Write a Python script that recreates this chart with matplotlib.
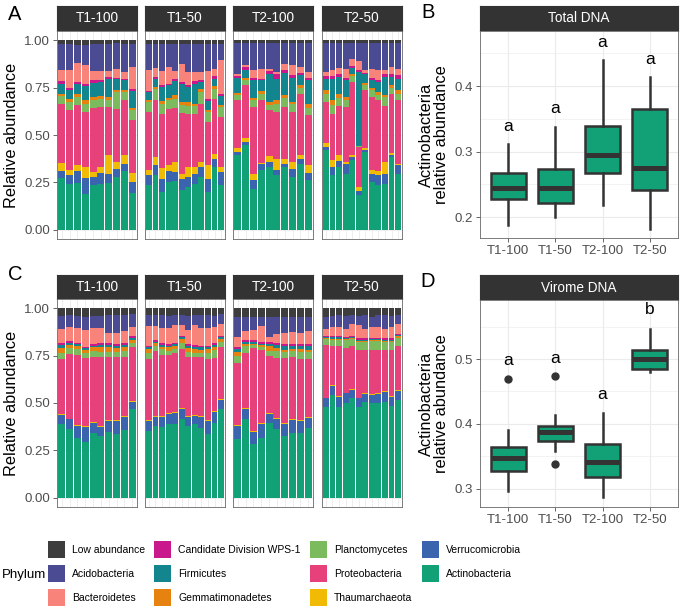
import numpy as np
import matplotlib
matplotlib.use('Agg')
import matplotlib.pyplot as plt
from matplotlib.patches import Patch

plt.rcParams['font.family'] = ['Liberation Sans', 'DejaVu Sans']

W, H = 680, 611

# legend order (ggplot factor levels)
phyla = ['Low abundance', 'Acidobacteria', 'Bacteroidetes',
         'Candidate Division WPS-1', 'Firmicutes', 'Gemmatimonadetes',
         'Planctomycetes', 'Proteobacteria', 'Thaumarchaeota',
         'Verrucomicrobia', 'Actinobacteria']
phylum_colors = ['#3d3d3d', '#4a4b93', '#f8837a',
                 '#c9188c', '#12858f', '#e6820f',
                 '#7bba5d', '#e6417a', '#f1bb05',
                 '#3a65ae', '#12a077']
# stacking order, bottom -> top
stack_order = ['Actinobacteria', 'Verrucomicrobia', 'Thaumarchaeota',
               'Proteobacteria', 'Planctomycetes', 'Gemmatimonadetes',
               'Firmicutes', 'Candidate Division WPS-1', 'Bacteroidetes',
               'Acidobacteria', 'Low abundance']

groups = ['T1-100', 'T1-50', 'T2-100', 'T2-50']

# cumulative tops of each layer (rows follow stack_order, Low abundance tops at 1)
total_t1_100 = [
    [0.273, 0.243, 0.246, 0.190, 0.234, 0.243, 0.246, 0.278, 0.310, 0.194],
    [0.310, 0.287, 0.308, 0.270, 0.278, 0.300, 0.296, 0.322, 0.349, 0.252],
    [0.352, 0.317, 0.340, 0.331, 0.305, 0.331, 0.393, 0.357, 0.393, 0.300],
    [0.662, 0.630, 0.657, 0.621, 0.644, 0.648, 0.648, 0.639, 0.683, 0.577],
    [0.706, 0.674, 0.700, 0.665, 0.683, 0.690, 0.687, 0.727, 0.727, 0.630],
    [0.718, 0.688, 0.715, 0.683, 0.700, 0.704, 0.700, 0.739, 0.736, 0.644],
    [0.771, 0.739, 0.771, 0.757, 0.776, 0.780, 0.798, 0.794, 0.789, 0.731],
    [0.783, 0.750, 0.782, 0.768, 0.789, 0.789, 0.806, 0.803, 0.798, 0.745],
    [0.845, 0.842, 0.880, 0.868, 0.838, 0.838, 0.838, 0.850, 0.833, 0.859],
    [0.982, 0.980, 0.978, 0.978, 0.982, 0.982, 0.982, 0.985, 0.982, 0.982],
]
total_t1_50 = [
    [0.233, 0.286, 0.198, 0.250, 0.259, 0.210, 0.224, 0.242, 0.277, 0.198, 0.333, 0.233],
    [0.286, 0.339, 0.268, 0.309, 0.303, 0.268, 0.277, 0.295, 0.330, 0.268, 0.374, 0.303],
    [0.316, 0.386, 0.326, 0.339, 0.356, 0.295, 0.330, 0.333, 0.356, 0.339, 0.400, 0.333],
    [0.621, 0.683, 0.612, 0.638, 0.644, 0.616, 0.612, 0.612, 0.665, 0.568, 0.691, 0.594],
    [0.674, 0.744, 0.665, 0.683, 0.691, 0.661, 0.656, 0.651, 0.727, 0.621, 0.744, 0.647],
    [0.683, 0.753, 0.679, 0.697, 0.709, 0.674, 0.674, 0.665, 0.744, 0.630, 0.757, 0.661],
    [0.727, 0.797, 0.753, 0.762, 0.788, 0.771, 0.753, 0.771, 0.780, 0.679, 0.797, 0.704],
    [0.735, 0.806, 0.762, 0.771, 0.797, 0.780, 0.762, 0.785, 0.792, 0.691, 0.810, 0.718],
    [0.845, 0.855, 0.841, 0.862, 0.841, 0.877, 0.832, 0.832, 0.832, 0.838, 0.850, 0.894],
    [0.982, 0.982, 0.982, 0.982, 0.982, 0.982, 0.982, 0.982, 0.982, 0.982, 0.982, 0.982],
]
total_t2_100 = [
    [0.393, 0.445, 0.217, 0.313, 0.331, 0.287, 0.331, 0.278, 0.349, 0.261],
    [0.410, 0.463, 0.261, 0.349, 0.357, 0.313, 0.349, 0.322, 0.375, 0.300],
    [0.431, 0.486, 0.292, 0.352, 0.387, 0.375, 0.375, 0.357, 0.393, 0.340],
    [0.683, 0.762, 0.648, 0.683, 0.630, 0.621, 0.648, 0.621, 0.718, 0.604],
    [0.710, 0.789, 0.683, 0.718, 0.657, 0.665, 0.697, 0.662, 0.750, 0.644],
    [0.722, 0.803, 0.697, 0.732, 0.674, 0.683, 0.710, 0.674, 0.762, 0.665],
    [0.803, 0.845, 0.789, 0.789, 0.824, 0.798, 0.827, 0.803, 0.815, 0.789],
    [0.813, 0.859, 0.803, 0.798, 0.838, 0.820, 0.845, 0.815, 0.827, 0.803],
    [0.820, 0.871, 0.845, 0.850, 0.850, 0.833, 0.873, 0.868, 0.859, 0.833],
    [0.988, 0.988, 0.988, 0.988, 0.988, 0.988, 0.988, 0.988, 0.988, 0.988],
]
total_t2_50 = [
    [0.419, 0.287, 0.331, 0.296, 0.366, 0.181, 0.410, 0.252, 0.234, 0.243, 0.384, 0.296],
    [0.437, 0.331, 0.361, 0.349, 0.384, 0.204, 0.423, 0.296, 0.287, 0.296, 0.393, 0.340],
    [0.458, 0.366, 0.393, 0.357, 0.393, 0.225, 0.433, 0.317, 0.310, 0.357, 0.405, 0.349],
    [0.674, 0.613, 0.651, 0.648, 0.780, 0.437, 0.736, 0.700, 0.683, 0.651, 0.718, 0.683],
    [0.715, 0.657, 0.697, 0.683, 0.810, 0.440, 0.762, 0.736, 0.710, 0.700, 0.750, 0.718],
    [0.736, 0.683, 0.715, 0.700, 0.820, 0.443, 0.775, 0.750, 0.727, 0.713, 0.762, 0.736],
    [0.798, 0.798, 0.806, 0.789, 0.856, 0.833, 0.820, 0.789, 0.780, 0.806, 0.806, 0.798],
    [0.810, 0.810, 0.820, 0.803, 0.866, 0.842, 0.827, 0.803, 0.792, 0.820, 0.824, 0.815],
    [0.833, 0.842, 0.856, 0.850, 0.903, 0.889, 0.845, 0.850, 0.842, 0.845, 0.859, 0.850],
    [0.988, 0.988, 0.988, 0.988, 0.988, 0.988, 0.988, 0.988, 0.988, 0.988, 0.988, 0.988],
]

virome_t1_100 = [
    [0.389, 0.363, 0.314, 0.296, 0.340, 0.328, 0.346, 0.335, 0.358, 0.467],
    [0.437, 0.414, 0.379, 0.375, 0.396, 0.375, 0.405, 0.405, 0.425, 0.507],
    [0.441, 0.418, 0.383, 0.379, 0.400, 0.379, 0.409, 0.409, 0.429, 0.511],
    [0.731, 0.759, 0.754, 0.736, 0.741, 0.741, 0.741, 0.741, 0.745, 0.794],
    [0.766, 0.789, 0.783, 0.766, 0.776, 0.771, 0.771, 0.771, 0.776, 0.819],
    [0.789, 0.806, 0.801, 0.780, 0.794, 0.794, 0.794, 0.789, 0.794, 0.833],
    [0.806, 0.819, 0.812, 0.789, 0.803, 0.806, 0.806, 0.803, 0.806, 0.842],
    [0.815, 0.827, 0.819, 0.798, 0.812, 0.815, 0.815, 0.812, 0.815, 0.854],
    [0.889, 0.903, 0.894, 0.886, 0.894, 0.894, 0.871, 0.868, 0.882, 0.903],
    [0.960, 0.965, 0.960, 0.956, 0.960, 0.960, 0.965, 0.965, 0.965, 0.970],
]
virome_t1_50 = [
    [0.354, 0.379, 0.375, 0.388, 0.389, 0.414, 0.379, 0.389, 0.367, 0.337, 0.393, 0.467],
    [0.407, 0.428, 0.428, 0.442, 0.446, 0.467, 0.428, 0.432, 0.425, 0.405, 0.454, 0.515],
    [0.411, 0.432, 0.432, 0.446, 0.450, 0.471, 0.432, 0.436, 0.429, 0.409, 0.458, 0.519],
    [0.731, 0.776, 0.754, 0.754, 0.762, 0.783, 0.745, 0.745, 0.741, 0.731, 0.736, 0.794],
    [0.762, 0.801, 0.783, 0.776, 0.783, 0.815, 0.771, 0.766, 0.766, 0.766, 0.780, 0.824],
    [0.783, 0.815, 0.798, 0.794, 0.801, 0.836, 0.789, 0.783, 0.780, 0.783, 0.794, 0.836],
    [0.794, 0.824, 0.806, 0.803, 0.812, 0.847, 0.801, 0.798, 0.794, 0.794, 0.806, 0.847],
    [0.801, 0.833, 0.815, 0.812, 0.819, 0.854, 0.812, 0.806, 0.801, 0.801, 0.815, 0.854],
    [0.907, 0.907, 0.894, 0.894, 0.912, 0.912, 0.886, 0.912, 0.894, 0.894, 0.903, 0.917],
    [0.965, 0.965, 0.965, 0.960, 0.965, 0.965, 0.960, 0.965, 0.965, 0.965, 0.960, 0.970],
]
virome_t2_100 = [
    [0.309, 0.414, 0.284, 0.314, 0.393, 0.361, 0.323, 0.340, 0.340, 0.367],
    [0.379, 0.467, 0.349, 0.389, 0.442, 0.414, 0.389, 0.411, 0.407, 0.419],
    [0.384, 0.472, 0.354, 0.394, 0.447, 0.419, 0.394, 0.416, 0.412, 0.424],
    [0.712, 0.765, 0.793, 0.779, 0.747, 0.740, 0.740, 0.744, 0.735, 0.735],
    [0.747, 0.800, 0.805, 0.796, 0.775, 0.775, 0.768, 0.775, 0.768, 0.768],
    [0.770, 0.814, 0.814, 0.805, 0.800, 0.793, 0.782, 0.786, 0.786, 0.782],
    [0.786, 0.823, 0.823, 0.814, 0.810, 0.805, 0.800, 0.800, 0.800, 0.800],
    [0.795, 0.832, 0.832, 0.823, 0.823, 0.817, 0.814, 0.814, 0.814, 0.814],
    [0.851, 0.882, 0.886, 0.909, 0.851, 0.865, 0.868, 0.874, 0.868, 0.879],
    [0.953, 0.953, 0.953, 0.956, 0.953, 0.953, 0.953, 0.953, 0.953, 0.953],
]
virome_t2_50 = [
    [0.481, 0.542, 0.481, 0.498, 0.524, 0.481, 0.507, 0.498, 0.498, 0.507, 0.484, 0.516],
    [0.525, 0.589, 0.533, 0.551, 0.568, 0.525, 0.547, 0.542, 0.547, 0.560, 0.533, 0.565],
    [0.529, 0.593, 0.537, 0.555, 0.572, 0.529, 0.551, 0.546, 0.551, 0.564, 0.537, 0.569],
    [0.805, 0.800, 0.800, 0.793, 0.800, 0.782, 0.782, 0.782, 0.782, 0.782, 0.782, 0.800],
    [0.840, 0.835, 0.835, 0.832, 0.840, 0.823, 0.823, 0.828, 0.828, 0.823, 0.823, 0.845],
    [0.845, 0.840, 0.840, 0.838, 0.845, 0.830, 0.830, 0.833, 0.833, 0.830, 0.830, 0.852],
    [0.849, 0.847, 0.847, 0.845, 0.849, 0.835, 0.835, 0.838, 0.838, 0.835, 0.835, 0.859],
    [0.856, 0.852, 0.852, 0.850, 0.856, 0.842, 0.842, 0.844, 0.844, 0.842, 0.842, 0.866],
    [0.893, 0.902, 0.902, 0.893, 0.919, 0.910, 0.893, 0.902, 0.902, 0.893, 0.902, 0.916],
    [0.954, 0.958, 0.963, 0.958, 0.963, 0.958, 0.963, 0.954, 0.963, 0.963, 0.958, 0.963],
]

# Actinobacteria box plot summaries
total_med = [0.245, 0.244, 0.294, 0.275]
total_q1 = [0.228, 0.221, 0.267, 0.242]
total_q3 = [0.267, 0.273, 0.339, 0.365]
total_lo = [0.188, 0.200, 0.218, 0.182]
total_hi = [0.311, 0.337, 0.440, 0.414]
total_out = [[], [], [], []]
total_letters = ['a', 'a', 'a', 'a']
total_letter_y = [0.338, 0.366, 0.467, 0.440]

virome_med = [0.347, 0.387, 0.342, 0.4995]
virome_q1 = [0.328, 0.373, 0.318, 0.485]
virome_q3 = [0.364, 0.397, 0.369, 0.514]
virome_lo = [0.297, 0.358, 0.287, 0.480]
virome_hi = [0.391, 0.414, 0.417, 0.547]
virome_out = [[0.469], [0.474, 0.338], [], []]
virome_letters = ['a', 'a', 'a', 'b']
virome_letter_y = [0.498, 0.501, 0.446, 0.576]

color_of = dict(zip(phyla, phylum_colors))
TICK_COL = '#4d4d4d'
EDGE = '#333333'


def px_axes(fig, left, top, width, height):
    return fig.add_axes([left / W, 1 - (top + height) / H, width / W, height / H])


def strip(fig, left, top, width, height, label):
    ax = px_axes(fig, left, top, width, height)
    ax.set_facecolor('#333333')
    ax.set_xticks([])
    ax.set_yticks([])
    for s in ax.spines.values():
        s.set_color('#333333')
    ax.text(0.5, 0.5, label, color='white', ha='center', va='center',
            fontsize=9.8, transform=ax.transAxes)


def stacked(ax, tops, first):
    tops = np.array(tops)
    n = tops.shape[1]
    x = np.arange(n)
    lower = np.vstack([np.zeros(n), tops])
    upper = np.vstack([tops, np.ones(n)])
    for i, name in enumerate(stack_order):
        ax.bar(x, upper[i] - lower[i], bottom=lower[i], width=0.9,
               color=color_of[name], linewidth=0, zorder=2)
    ax.set_xlim(-0.6, n - 0.4)
    ax.set_ylim(-0.05, 1.05)
    ax.set_xticks(x)
    ax.set_yticks([0, 0.25, 0.5, 0.75, 1.0])
    ax.set_yticklabels(['0.00', '0.25', '0.50', '0.75', '1.00'])
    ax.grid(True, color='#ebebeb', lw=0.6, zorder=0)
    ax.tick_params(axis='x', length=0, labelbottom=False)
    if first:
        ax.tick_params(axis='y', length=3, width=0.6, color=TICK_COL,
                       labelcolor=TICK_COL, labelsize=9.5, pad=2)
    else:
        ax.tick_params(axis='y', length=0, labelleft=False)
    for s in ax.spines.values():
        s.set_color('#666666')
        s.set_linewidth(0.6)


def boxes(ax, med, q1, q3, lo, hi, out, letters, letter_y, ylim, yticks):
    stats = []
    for i in range(len(groups)):
        stats.append(dict(med=med[i], q1=q1[i], q3=q3[i], whislo=lo[i],
                          whishi=hi[i], fliers=out[i]))
    ax.bxp(stats, positions=[1, 2, 3, 4], widths=0.75, patch_artist=True,
           showcaps=False,
           boxprops=dict(facecolor='#12a077', edgecolor=EDGE, linewidth=1.8),
           medianprops=dict(color=EDGE, linewidth=3.6, solid_capstyle='butt'),
           whiskerprops=dict(color=EDGE, linewidth=1.8),
           flierprops=dict(marker='o', markerfacecolor=EDGE,
                           markeredgecolor=EDGE, markersize=5))
    for i, t in enumerate(letters):
        ax.text(i + 1, letter_y[i], t, ha='center', va='center', fontsize=12.5)
    ax.set_xlim(0.4, 4.6)
    ax.set_ylim(*ylim)
    ax.set_xticks([1, 2, 3, 4])
    ax.set_xticklabels(groups)
    ax.set_yticks(yticks)
    ax.set_yticks([v + 0.05 for v in yticks], minor=True)
    ax.grid(True, which='major', color='#ebebeb', lw=0.8, zorder=0)
    ax.grid(True, which='minor', axis='y', color='#ebebeb', lw=0.4, zorder=0)
    ax.set_axisbelow(True)
    ax.tick_params(which='both', length=3, width=0.6, color=TICK_COL,
                   labelcolor=TICK_COL, labelsize=9.5, pad=2)
    ax.tick_params(which='minor', length=0)
    for s in ax.spines.values():
        s.set_color('#666666')
        s.set_linewidth(0.6)


fig = plt.figure(figsize=(W / 100, H / 100), dpi=100)

facet_left = [57, 145, 233, 322]
facet_w = 80

for row, (data, strip_top, panel_top) in enumerate([
        ([total_t1_100, total_t1_50, total_t2_100, total_t2_50], 6, 31),
        ([virome_t1_100, virome_t1_50, virome_t2_100, virome_t2_50], 275, 299)]):
    for j, tops in enumerate(data):
        strip(fig, facet_left[j], strip_top, facet_w, panel_top - strip_top, groups[j])
        ax = px_axes(fig, facet_left[j], panel_top, facet_w, 208)
        stacked(ax, tops, j == 0)
    fig.text(12 / W, 1 - (panel_top + 104) / H, 'Relative abundance',
             rotation=90, ha='center', va='center', fontsize=11.8)

# panel B
strip(fig, 480, 6, 198, 25, 'Total DNA')
axb = px_axes(fig, 480, 31, 198, 207)
boxes(axb, total_med, total_q1, total_q3, total_lo, total_hi, total_out,
      total_letters, total_letter_y, (0.168, 0.484), [0.2, 0.3, 0.4])

# panel D
strip(fig, 480, 275, 198, 25, 'Virome DNA')
axd = px_axes(fig, 480, 300, 198, 207)
boxes(axd, virome_med, virome_q1, virome_q3, virome_lo, virome_hi, virome_out,
      virome_letters, virome_letter_y, (0.272, 0.591), [0.3, 0.4, 0.5])

for y in [135, 404]:
    fig.text(434 / W, 1 - y / H, 'Actinobacteria\nrelative abundance',
             rotation=90, ha='center', va='center', fontsize=11.8,
             linespacing=1.05)

for lab, x, y in [('A', 15, 14), ('B', 428, 12), ('C', 15, 275), ('D', 428, 281)]:
    fig.text(x / W, 1 - y / H, lab, fontsize=14.5, ha='center', va='center')

handles = [Patch(facecolor=c, edgecolor='none') for c in phylum_colors]
fig.legend(handles, phyla, ncol=4, loc='upper left',
           bbox_to_anchor=(48 / W, 1 - 541 / H), frameon=False, fontsize=7.5,
           handlelength=1.63, handleheight=2.13, handletextpad=0.67,
           labelspacing=0.67, columnspacing=0.9, borderpad=0, borderaxespad=0)
fig.text(2 / W, 1 - 575 / H, 'Phylum', fontsize=9.5, ha='left', va='center')

fig.savefig('out.png', dpi=100)
